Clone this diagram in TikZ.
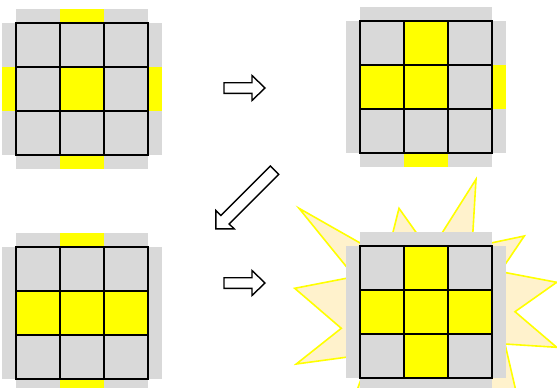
\documentclass[tikz,border=0pt]{standalone}
\usetikzlibrary{calc}
\definecolor{cg}{HTML}{D9D9D9}
\definecolor{cy}{HTML}{FFFF00}
\definecolor{burst}{HTML}{FFF2CC}
\tikzset{
  cellbox/.style={draw=black, line width=1.7pt},
  blockarrow/.style={draw=black, fill=white, line width=1.4pt, line join=miter},
  burstshape/.style={draw=cy, fill=burst, line width=1.6pt, line join=miter}
}
\newcommand{\myface}[7]{%
 \begin{scope}[shift={(#1,#2)}]
  \foreach \c [count=\i from 0] in {#4} { \fill[\c] (\i*44,-14) rectangle ++(44,14); }
  \foreach \c [count=\i from 0] in {#6} { \fill[\c] (\i*44,132) rectangle ++(44,14); }
  \foreach \c [count=\i from 0] in {#7} { \fill[\c] (-14,\i*44) rectangle ++(14,44); }
  \foreach \c [count=\i from 0] in {#5} { \fill[\c] (132,\i*44) rectangle ++(14,44); }
  \foreach \c [count=\i from 0] in {#3} {
    \pgfmathtruncatemacro\myrow{\i/3}
    \pgfmathtruncatemacro\mycol{mod(\i,3)}
    \draw[cellbox, fill=\c] (\mycol*44,\myrow*44) rectangle ++(44,44);
  }
 \end{scope}}
\begin{document}
\begin{tikzpicture}[x=1pt,y=-1pt]
\useasboundingbox (0,0) rectangle (557,388);
\clip (0,0) rectangle (557,388);
% starburst
\draw[burstshape] (299,208.3) -- (386.5,258) -- (399,208.3) -- (430,252) -- (476,179.3)
  -- (472,247) -- (524.3,236) -- (500.3,271.6) -- (556.7,282.3) -- (515,311.7)
  -- (556.7,347.3) -- (505,344) -- (518,400) -- (450,385) -- (353.6,400)
  -- (370,354) -- (296.3,364) -- (341.3,328.3) -- (294.7,288.3) -- (354.5,276.7) -- cycle;
% faces
\myface{16}{23}{cg,cg,cg,cg,cy,cg,cg,cg,cg}{cg,cy,cg}{cg,cy,cg}{cg,cy,cg}{cg,cy,cg}
\myface{360}{21}{cg,cy,cg,cy,cy,cg,cg,cg,cg}{cg,cg,cg}{cg,cy,cg}{cg,cy,cg}{cg,cg,cg}
\myface{16}{247}{cg,cg,cg,cy,cy,cy,cg,cg,cg}{cg,cy,cg}{cg,cg,cg}{cg,cy,cg}{cg,cg,cg}
\myface{360}{246}{cg,cy,cg,cy,cy,cy,cg,cy,cg}{cg,cg,cg}{cg,cg,cg}{cg,cg,cg}{cg,cg,cg}
% arrows
\draw[blockarrow] (224,82.7) -- (252,82.7) -- (252,75.5) -- (265,88) -- (252,100.5) -- (252,93.3) -- (224,93.3) -- cycle;
\draw[blockarrow] (224,277.7) -- (252,277.7) -- (252,270.5) -- (265,283) -- (252,295.5) -- (252,288.3) -- (224,288.3) -- cycle;
\draw[blockarrow] (270.3,166) -- (278.7,174.4) -- (229.2,224) -- (234.2,228.9) -- (215.8,228.9) -- (215.8,210.5) -- (220.8,215.5) -- cycle;
\end{tikzpicture}
\end{document}
